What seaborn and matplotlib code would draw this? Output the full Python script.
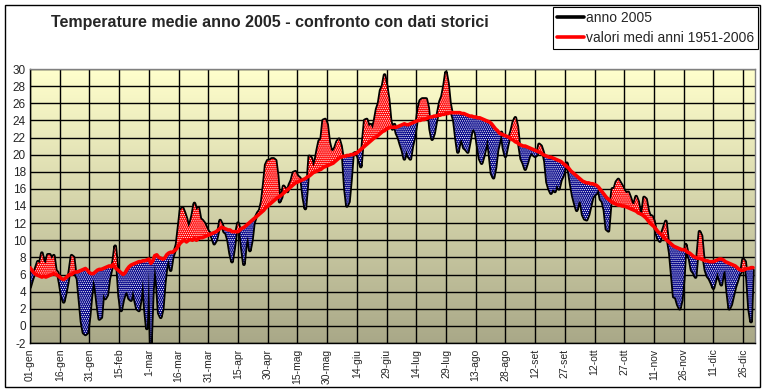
import numpy as np
import pandas as pd
import matplotlib
matplotlib.use("Agg")
import matplotlib.pyplot as plt
import seaborn as sns
from matplotlib.colors import LinearSegmentedColormap
from matplotlib.patches import Rectangle

# temperature giornaliere 2005 (01-gen .. 31-dic, calendario di 366 giorni), una riga ogni 15 giorni
anno_2005 = [
    4.5, 5.3, 6.0, 6.8, 7.5, 7.3, 8.5, 7.5, 7.3, 8.3, 8.3, 7.8, 8.2, 6.5, 6.2,
    5.0, 3.5, 2.8, 3.8, 5.0, 6.5, 8.2, 8.0, 6.0, 5.5, 3.0, 0.5, -0.8, -1.0, -0.8,
    1.0, 3.5, 5.5, 4.5, 2.5, 0.8, 1.0, 3.8, 3.2, 3.6, 5.5, 6.5, 7.5, 9.3, 7.0,
    3.5, 1.8, 3.0, 3.8, 4.0, 3.2, 3.0, 4.3, 3.0, 2.0, 1.8, 3.2, 5.5, 2.0, -0.3,
    6.5, -2.2, 4.0, 7.2, 5.0, 1.5, 1.0, 2.0, 5.0, 7.0, 7.8, 6.5, 8.0, 8.7, 9.5,
    11.5, 13.5, 13.8, 13.2, 12.5, 11.5, 12.0, 13.0, 14.3, 13.5, 13.8, 12.5, 12.3, 12.0, 11.5,
    11.0, 10.8, 10.3, 9.6, 10.0, 11.0, 12.3, 11.8, 11.0, 10.8, 10.0, 8.5, 7.5, 9.0, 10.8,
    12.0, 11.2, 9.0, 7.2, 9.5, 10.5, 8.8, 10.0, 12.0, 12.7, 13.2, 13.5, 14.5, 16.5, 18.8,
    19.3, 19.3, 19.5, 19.5, 19.3, 17.5, 14.5, 15.0, 16.3, 16.0, 15.7, 16.5, 17.0, 17.9, 18.0,
    17.5, 17.3, 17.0, 15.0, 13.7, 16.5, 19.8, 19.6, 18.6, 19.2, 20.5, 21.6, 21.8, 24.0, 24.1,
    23.5, 21.5, 20.5, 20.4, 20.8, 21.5, 21.8, 21.0, 19.5, 16.0, 14.0, 14.5, 17.0, 20.0, 20.2,
    20.2, 19.5, 18.6, 21.5, 24.0, 24.1, 23.3, 23.5, 23.0, 24.0, 25.3, 26.0, 27.5, 28.0, 29.3,
    28.0, 26.5, 24.0, 23.0, 23.5, 22.5, 22.0, 21.2, 20.5, 19.5, 20.5, 19.8, 19.5, 21.0, 22.0,
    23.5, 25.3, 26.3, 26.5, 26.5, 26.5, 25.5, 23.0, 21.8, 22.5, 23.8, 25.0, 26.2, 26.8, 28.0,
    29.6, 28.3, 26.0, 24.8, 24.0, 22.0, 20.3, 21.5, 21.8, 20.8, 20.6, 20.3, 21.5, 22.8, 23.0,
    22.5, 21.0, 19.5, 19.0, 19.8, 20.8, 22.0, 20.0, 17.8, 17.3, 18.5, 20.5, 21.5, 22.6, 20.8,
    19.8, 21.0, 22.0, 22.8, 23.8, 24.3, 23.3, 21.0, 19.5, 19.0, 18.3, 19.0, 19.8, 20.2, 20.0,
    19.8, 20.0, 21.2, 21.0, 20.3, 19.2, 16.8, 16.0, 15.5, 16.0, 15.7, 16.5, 16.0, 17.0, 17.5,
    18.4, 19.0, 18.0, 16.5, 15.2, 14.3, 13.5, 14.5, 14.5, 13.0, 12.5, 12.4, 13.0, 14.0, 15.0,
    15.3, 15.5, 16.0, 14.8, 14.5, 13.5, 11.3, 11.1, 14.0, 16.0, 16.0, 16.8, 17.1, 16.7, 16.3,
    15.8, 15.5, 15.6, 15.0, 14.3, 14.2, 15.1, 14.5, 13.2, 13.0, 15.0, 14.8, 13.5, 12.8, 12.8,
    12.2, 11.0, 10.2, 9.9, 10.8, 11.5, 12.2, 10.0, 8.5, 6.0, 3.4, 3.3, 2.5, 2.0, 3.0,
    5.5, 9.5, 8.5, 7.8, 6.5, 6.2, 5.7, 8.5, 11.0, 10.5, 8.0, 6.5, 5.8, 5.5, 5.0,
    4.4, 5.3, 6.3, 5.5, 4.8, 6.2, 6.5, 4.0, 2.0, 2.5, 3.5, 4.5, 5.2, 6.0, 6.3,
    7.8, 7.5, 5.5, 2.0, 0.5, 6.5,
]

# valori medi 1951-2006
medie_storiche = [
    6.8, 6.5, 6.2, 6.0, 5.9, 5.8, 5.7, 5.8, 5.7, 5.8, 5.9, 6.0, 6.1, 6.0, 5.9,
    5.7, 5.5, 5.4, 5.6, 5.8, 6.0, 6.0, 6.2, 6.3, 6.3, 6.4, 6.5, 6.6, 6.7, 6.5,
    6.2, 6.1, 6.1, 6.3, 6.5, 6.6, 6.6, 6.7, 6.8, 6.9, 7.0, 6.9, 7.2, 6.8, 6.6,
    6.4, 6.2, 6.0, 6.2, 6.6, 6.9, 7.1, 7.2, 7.3, 7.4, 7.5, 7.5, 7.6, 7.6, 7.7,
    7.8, 7.3, 7.6, 8.2, 8.3, 8.0, 7.9, 7.8, 7.9, 8.3, 8.5, 8.6, 8.6, 8.8, 9.0,
    9.4, 9.7, 9.9, 10.0, 9.8, 10.0, 10.1, 10.0, 10.2, 10.0, 10.2, 10.3, 10.3, 10.4, 10.5,
    10.6, 10.7, 10.8, 10.9, 11.0, 11.2, 11.4, 11.5, 11.4, 11.3, 11.2, 11.2, 11.0, 11.0, 11.0,
    11.0, 11.2, 11.4, 11.5, 11.7, 11.9, 12.1, 12.3, 12.5, 12.7, 12.9, 13.1, 13.3, 13.5, 13.8,
    14.0, 14.2, 14.4, 14.6, 14.8, 15.0, 15.1, 15.3, 15.5, 15.7, 15.9, 16.1, 16.3, 16.5, 16.7,
    16.8, 16.9, 17.0, 17.1, 17.2, 17.4, 17.5, 17.7, 17.9, 18.0, 18.1, 18.2, 18.3, 18.5, 18.6,
    18.7, 18.8, 18.9, 19.0, 19.2, 19.4, 19.6, 19.7, 19.8, 19.8, 19.9, 19.9, 20.0, 20.0, 20.1,
    20.2, 20.4, 20.6, 20.8, 21.0, 21.2, 21.4, 21.6, 21.8, 22.0, 22.1, 22.3, 22.5, 22.7, 22.8,
    23.0, 23.1, 23.2, 23.2, 23.2, 23.2, 23.3, 23.4, 23.5, 23.6, 23.5, 23.5, 23.6, 23.7, 23.8,
    23.9, 24.0, 24.0, 24.1, 24.1, 24.2, 24.3, 24.4, 24.4, 24.5, 24.5, 24.6, 24.6, 24.7, 24.7,
    24.8, 24.8, 24.9, 24.9, 24.9, 24.9, 24.9, 24.9, 24.8, 24.8, 24.7, 24.6, 24.5, 24.5, 24.4,
    24.4, 24.3, 24.3, 24.2, 24.1, 24.0, 23.9, 23.8, 23.6, 23.3, 23.0, 22.8, 22.5, 22.4, 22.3,
    22.2, 22.1, 22.0, 21.8, 21.7, 21.5, 21.4, 21.2, 21.1, 21.0, 21.0, 20.9, 20.8, 20.7, 20.6,
    20.5, 20.4, 20.3, 20.2, 20.0, 19.9, 19.8, 19.7, 19.7, 19.6, 19.5, 19.4, 19.3, 19.2, 19.0,
    18.8, 18.6, 18.4, 18.1, 17.9, 17.7, 17.5, 17.3, 17.1, 16.9, 16.8, 16.7, 16.7, 16.6, 16.6,
    16.5, 16.4, 16.2, 15.9, 15.6, 15.3, 15.0, 14.8, 14.6, 14.4, 14.3, 14.2, 14.1, 14.1, 14.0,
    14.0, 13.9, 13.8, 13.7, 13.6, 13.5, 13.4, 13.2, 13.1, 13.0, 12.8, 12.6, 12.3, 12.0, 11.8,
    11.6, 11.3, 11.0, 10.8, 10.6, 10.3, 10.1, 9.9, 9.7, 9.5, 9.3, 9.2, 9.1, 9.0, 8.9,
    8.9, 8.8, 8.6, 8.5, 8.3, 8.1, 8.0, 7.9, 7.9, 7.8, 7.7, 7.6, 7.6, 7.5, 7.5,
    7.5, 7.6, 7.7, 7.8, 7.8, 7.7, 7.5, 7.4, 7.3, 7.2, 7.1, 7.0, 6.8, 6.6, 6.5,
    6.5, 6.6, 6.7, 6.7, 6.8, 6.8,
]

etichette_x = ["01-gen", "16-gen", "31-gen", "15-feb", "1-mar", "16-mar", "31-mar",
               "15-apr", "30-apr", "15-mag", "30-mag", "14-giu", "29-giu", "14-lug",
               "29-lug", "13-ago", "28-ago", "12-set", "27-set", "12-ott", "27-ott",
               "11-nov", "26-nov", "11-dic", "26-dic"]
valori_y = list(range(-2, 31, 2))

TITOLO = "Temperature medie anno 2005 - confronto con dati storici"
W, H = 766, 392

sns.set_style("white")
plt.rcParams["font.family"] = ["Liberation Sans", "DejaVu Sans"]
plt.rcParams["hatch.linewidth"] = 0.6

giorni = np.arange(len(anno_2005))
df = pd.DataFrame({"giorno": giorni, "t2005": anno_2005, "tmedia": medie_storiche})
t05 = df["t2005"].to_numpy()
tmed = df["tmedia"].to_numpy()

fig = plt.figure(figsize=(W / 100, H / 100), dpi=100)
fig.patch.set_facecolor("white")
ax = fig.add_axes([30 / W, 1 - 343 / H, 725 / W, 274 / H])

# sfondo sfumato giallo -> grigio oliva
sfumatura = LinearSegmentedColormap.from_list("sfondo", ["#FFFFCC", "#A9A888"])
ax.imshow(np.linspace(0, 1, 256).reshape(-1, 1), cmap=sfumatura, aspect="auto",
          extent=[0, 366, -2, 30], zorder=0, interpolation="bilinear")

sns.lineplot(data=df, x="giorno", y="t2005", color="black", lw=2.6, ax=ax,
             label="anno 2005", zorder=2)
ax.fill_between(giorni, t05, tmed, where=t05 >= tmed, interpolate=True,
                facecolor="#FF0000", edgecolor="white", hatch="........", lw=0, zorder=2.5)
ax.fill_between(giorni, t05, tmed, where=t05 < tmed, interpolate=True,
                facecolor="#000088", edgecolor="white", hatch="........", lw=0, zorder=2.5)
sns.lineplot(data=df, x="giorno", y="tmedia", color="#FF0000", lw=2.6, ax=ax,
             label="valori medi anni 1951-2006", zorder=3)

ax.set_xlim(0, 366)
ax.set_ylim(-2, 30)
ax.set_xticks(range(0, 366, 15))
ax.set_xticklabels(etichette_x, rotation=90)
ax.set_yticks(valori_y)
ax.set_yticklabels([str(v) for v in valori_y])
ax.set_axisbelow(True)
ax.grid(True, color="black", lw=1.0)
ax.tick_params(axis="x", labelsize=7.5, length=0, pad=4)
ax.tick_params(axis="y", labelsize=8.5, length=0, pad=3)
ax.set_xlabel("")
ax.set_ylabel("")
for lato in ["left", "bottom"]:
    ax.spines[lato].set_color("black")
    ax.spines[lato].set_linewidth(1.0)
for lato in ["top", "right"]:
    ax.spines[lato].set_color("#808080")
    ax.spines[lato].set_linewidth(1.0)

handles, labels = ax.get_legend_handles_labels()
ax.get_legend().remove()
leg = fig.legend(handles, labels, loc="upper left", bbox_to_anchor=(553 / W, 1 - 7 / H),
                 frameon=True, fancybox=False, framealpha=1, edgecolor="black",
                 fontsize=10, handlelength=1.9, handletextpad=0.15, labelspacing=0.4,
                 borderpad=0.3, borderaxespad=0)
leg.get_frame().set_linewidth(0.8)
for linea in leg.get_lines():
    linea.set_linewidth(2.6)

fig.text(270 / W, 1 - 22 / H, TITOLO, ha="center", va="center",
         fontsize=11.5, fontweight="bold")

fig.add_artist(Rectangle((5 / W, 1 - 387 / H), 755 / W, 382 / H, transform=fig.transFigure,
                         fill=False, edgecolor="black", lw=1.0))

fig.savefig("out.png", dpi=100)
